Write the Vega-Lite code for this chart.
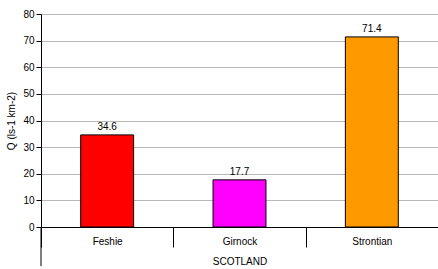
{
  "$schema": "https://vega.github.io/schema/vega-lite/v6.json",
  "width": 397,
  "height": 213,
  "autosize": "none",
  "padding": {"left": 41, "top": 14, "right": 0, "bottom": 42},
  "background": "white",
  "config": {"view": {"stroke": null}, "font": "Liberation Sans"},
  "data": {"values": [
    {"site": "Feshie", "q": 34.6, "color": "#ff0000"},
    {"site": "Girnock", "q": 17.7, "color": "#ff00ff"},
    {"site": "Strontian", "q": 71.4, "color": "#ff9900"}
  ]},
  "encoding": {
    "x": {"field": "site", "type": "nominal", "sort": null,
      "scale": {"paddingInner": 0, "paddingOuter": 0},
      "axis": {"title": "SCOTLAND", "titleFontWeight": "normal", "titleFontSize": 10, "titleColor": "#000000", "titlePadding": 9,
        "labelAngle": 0, "labelFontSize": 10, "labelColor": "#000000", "labelPadding": -11,
        "tickBand": "extent", "tickSize": 20, "tickColor": "#000000", "domainColor": "#000000", "domainWidth": 1.2}},
    "y": {"field": "q", "type": "quantitative",
      "scale": {"domain": [0, 80], "nice": false, "zero": true},
      "axis": {"title": "Q (ls-1 km-2)", "titleFontWeight": "normal", "titleFontSize": 10, "titleColor": "#000000", "titlePadding": 6,
        "values": [0, 10, 20, 30, 40, 50, 60, 70, 80], "labelOverlap": false, "labelFontSize": 10, "labelColor": "#000000",
        "tickColor": "#000000", "tickSize": 5, "domainColor": "#000000",
        "gridColor": "#b8b8b8", "gridWidth": 1}}
  },
  "layer": [
    {
      "mark": {"type": "bar", "width": {"band": 0.4}, "stroke": "#000000", "strokeWidth": 1},
      "encoding": {
        "fill": {"field": "color", "type": "nominal", "scale": null}
      }
    },
    {
      "mark": {"type": "text", "baseline": "bottom", "dy": -3, "fontSize": 10, "color": "#000000"},
      "encoding": {
        "text": {"field": "q", "type": "quantitative", "format": ".1f"}
      }
    },
    {
      "data": {"values": [{"site": "Feshie", "q": 0, "hi": -14.7}]},
      "mark": {"type": "rule", "color": "#000000", "strokeWidth": 1},
      "encoding": {
        "x": {"field": "site", "type": "nominal", "sort": null, "bandPosition": 0,
          "axis": {"title": "SCOTLAND", "titleFontWeight": "normal", "titleFontSize": 10, "titleColor": "#000000", "titlePadding": 9,
            "labelAngle": 0, "labelFontSize": 10, "labelColor": "#000000", "labelPadding": -11,
            "tickBand": "extent", "tickSize": 20, "tickColor": "#000000", "domainColor": "#000000", "domainWidth": 1.2}},
        "y2": {"field": "hi"}
      }
    }
  ]
}
